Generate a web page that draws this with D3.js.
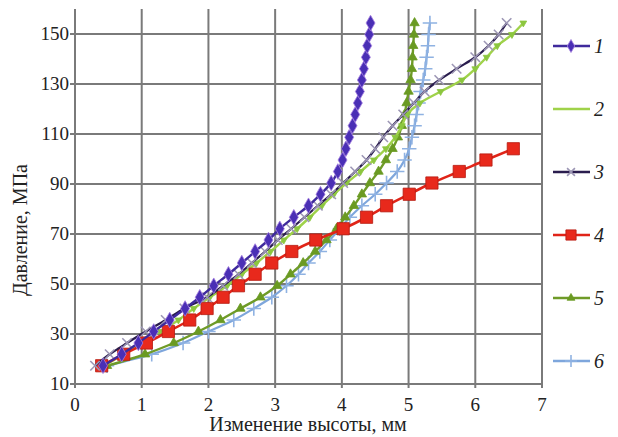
<!DOCTYPE html>
<html>
<head>
<meta charset="utf-8">
<script src="https://cdn.jsdelivr.net/npm/d3@7"></script>
<style>
  body { margin: 0; background: #fff; }
</style>
</head>
<body>
<div id="chart"></div>
<script>
// давление, МПа (общая сетка для всех кривых)
const pressure = [17.3, 21.9, 26.4, 31.0, 35.6, 40.2, 44.7, 49.3, 53.9, 58.4, 63.0, 67.6, 72.1, 76.7, 81.3, 85.9,
  90.4, 95.0, 99.6, 104.1, 108.7, 113.3, 117.8, 122.4, 127.0, 131.6, 136.1, 140.7, 145.3, 149.8, 154.4]

// изменение высоты, мм
const h1 = [0.42, 0.70, 0.95, 1.18, 1.42, 1.65, 1.87, 2.08, 2.30, 2.50, 2.70, 2.90, 3.07, 3.28, 3.50, 3.68,
  3.84, 3.94, 4.01, 4.06, 4.11, 4.16, 4.20, 4.24, 4.27, 4.30, 4.33, 4.36, 4.38, 4.41, 4.43]
const h2 = [0.45, 0.72, 1.00, 1.28, 1.55, 1.78, 2.02, 2.28, 2.50, 2.72, 2.93, 3.13, 3.33, 3.52, 3.70, 3.88,
  4.07, 4.28, 4.48, 4.66, 4.80, 4.90, 4.98, 5.17, 5.48, 5.80, 6.00, 6.17, 6.33, 6.55, 6.72]
const h3 = [0.30, 0.52, 0.78, 1.06, 1.36, 1.64, 1.98, 2.22, 2.45, 2.65, 2.85, 3.04, 3.24, 3.44, 3.64, 3.84,
  4.02, 4.20, 4.37, 4.50, 4.62, 4.76, 4.92, 5.08, 5.24, 5.46, 5.72, 6.00, 6.20, 6.35, 6.47]
const h4 = [0.40, 0.73, 1.07, 1.40, 1.72, 1.98, 2.22, 2.45, 2.70, 2.95, 3.25, 3.61, 4.02, 4.37, 4.67, 5.01,
  5.35, 5.76, 6.16, 6.57]
const h5 = [0.48, 1.05, 1.48, 1.85, 2.18, 2.48, 2.78, 3.03, 3.23, 3.42, 3.60, 3.77, 3.92, 4.05, 4.18, 4.30,
  4.42, 4.55, 4.66, 4.76, 4.84, 4.90, 4.94, 4.97, 5.00, 5.03, 5.05, 5.06, 5.07, 5.08, 5.09]
const h6 = [0.48, 1.15, 1.62, 2.00, 2.38, 2.68, 2.95, 3.17, 3.35, 3.50, 3.67, 3.82, 3.97, 4.12, 4.30, 4.50,
  4.67, 4.83, 4.94, 5.01, 5.05, 5.09, 5.12, 5.15, 5.18, 5.22, 5.25, 5.27, 5.29, 5.30, 5.32]

const seriesNames = ['1', '2', '3', '4', '5', '6']
const xTicks = [0, 1, 2, 3, 4, 5, 6, 7]
const yTicks = [10, 30, 50, 70, 90, 110, 130, 150]

const FONT = 'Times New Roman, Liberation Serif, serif'

const styles = [
  { line: '#3f2a9c', fill: '#4a2fb5', stroke: '#a57fe0', sym: d3.symbolDiamond, size: 70, sw: 2.4 },
  { line: '#9fd24a', fill: '#8cc63f', stroke: '#8cc63f', sym: d3.symbolTriangle, size: 20, sw: 2.4, rot: 180 },
  { line: '#2a1d4e', fill: 'none', stroke: '#9d97b5', sym: d3.symbolX, size: 60, sw: 2.2 },
  { line: '#e02418', fill: '#e8291c', stroke: '#b51a10', sym: d3.symbolSquare, size: 150, sw: 2.6 },
  { line: '#6f9b28', fill: '#6a9a22', stroke: '#6a9a22', sym: d3.symbolTriangle, size: 38, sw: 2.4 },
  { line: '#7ea6dc', fill: 'none', stroke: '#8fb2e2', sym: d3.symbolPlus, size: 70, sw: 2.2 }
]

const data = [h1, h2, h3, h4, h5, h6].map((hs, i) => ({
  name: seriesNames[i],
  pts: hs.map((h, j) => ({ x: h, y: pressure[j] }))
}))

const W = 618, H = 437
const svg = d3.select('#chart').append('svg')
  .attr('width', W)
  .attr('height', H)
  .attr('font-family', FONT)

const x = d3.scaleLinear().domain([0, 7]).range([75, 542])
const y = d3.scaleLinear().domain([10, 160]).range([384, 9])

const grid = svg.append('g').attr('stroke', '#7a7a7a').attr('stroke-width', 2)
grid.selectAll('.vg').data(xTicks).enter().append('line')
  .attr('x1', d => x(d)).attr('x2', d => x(d))
  .attr('y1', y(160)).attr('y2', y(10) + 4)
grid.selectAll('.hg').data(yTicks).enter().append('line')
  .attr('x1', x(0) - 5).attr('x2', x(7))
  .attr('y1', d => y(d)).attr('y2', d => y(d))

svg.append('g').selectAll('text').data(yTicks).enter().append('text')
  .attr('x', x(0) - 6).attr('y', d => y(d) + 6)
  .attr('text-anchor', 'end').attr('font-size', 19).attr('fill', '#222')
  .attr('font-family', FONT)
  .text(d => d)

svg.append('g').selectAll('text').data(xTicks).enter().append('text')
  .attr('x', d => x(d)).attr('y', 411)
  .attr('text-anchor', 'middle').attr('font-size', 19).attr('fill', '#222')
  .attr('font-family', FONT)
  .text(d => d)

svg.append('text')
  .attr('x', 308).attr('y', 431)
  .attr('text-anchor', 'middle').attr('font-size', 20).attr('fill', '#222')
  .attr('font-family', FONT)
  .text('Изменение высоты, мм')

svg.append('text')
  .attr('transform', 'translate(27,230) rotate(-90)')
  .attr('text-anchor', 'middle').attr('font-size', 20).attr('fill', '#222')
  .attr('font-family', FONT)
  .text('Давление, МПа')

const line = d3.line().x(d => x(d.x)).y(d => y(d.y)).curve(d3.curveMonotoneY)

const drawOrder = [5, 4, 1, 3, 2, 0]
drawOrder.forEach(i => {
  const s = styles[i]
  const g = svg.append('g')
  g.append('path').datum(data[i].pts)
    .attr('d', line)
    .attr('fill', 'none')
    .attr('stroke', s.line)
    .attr('stroke-width', s.sw)
  g.selectAll('path.mk').data(data[i].pts).enter().append('path')
    .attr('class', 'mk')
    .attr('d', d3.symbol().type(s.sym).size(s.size))
    .attr('transform', d => `translate(${x(d.x)},${y(d.y)})` + (s.rot ? ` rotate(${s.rot})` : ''))
    .attr('fill', s.fill)
    .attr('stroke', s.stroke)
    .attr('stroke-width', s.fill === 'none' ? 1.6 : 0.8)
})

// легенда
const legY = [46, 109, 172, 235, 298, 361]
const leg = svg.append('g')
seriesNames.forEach((n, i) => {
  const s = styles[i]
  const gy = legY[i]
  leg.append('line')
    .attr('x1', 553).attr('x2', 590).attr('y1', gy).attr('y2', gy)
    .attr('stroke', s.line).attr('stroke-width', 2.5)
  if (i !== 1) {
    leg.append('path')
      .attr('d', d3.symbol().type(s.sym).size(s.size * 0.7))
      .attr('transform', `translate(571,${gy})` + (s.rot ? ` rotate(${s.rot})` : ''))
      .attr('fill', s.fill).attr('stroke', s.stroke)
      .attr('stroke-width', s.fill === 'none' ? 1.6 : 0.8)
  }
  leg.append('text')
    .attr('x', 594).attr('y', gy + 7)
    .attr('font-size', 20).attr('font-style', 'italic').attr('fill', '#222')
    .attr('font-family', FONT)
    .text(n)
})
</script>
</body>
</html>
